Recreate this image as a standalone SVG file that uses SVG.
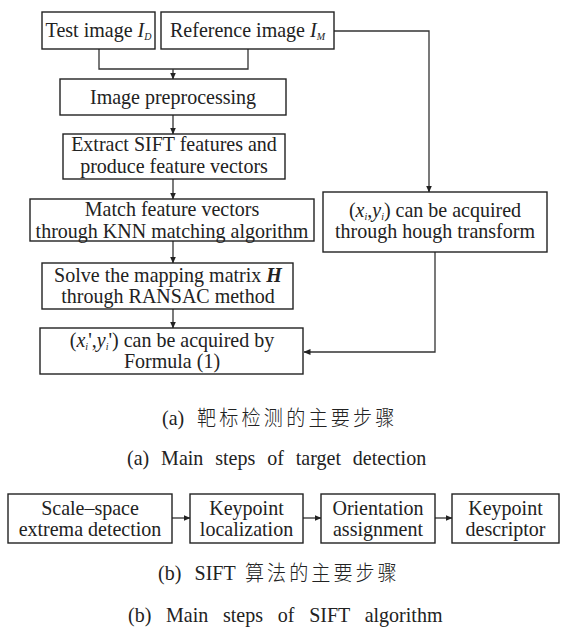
<svg xmlns="http://www.w3.org/2000/svg" width="564" height="628" viewBox="0 0 564 628">
<defs>
<marker id="ah" markerWidth="7" markerHeight="6" refX="6.5" refY="3" orient="auto" markerUnits="userSpaceOnUse"><path d="M0,0 L7,3 L0,6 z" fill="#222"/></marker>
</defs>
<style>
.box{fill:#fff;stroke:#222;stroke-width:1.4}
.t{font-size:22px;fill:#222;text-anchor:middle}
.c{stroke:#333;stroke-width:1.3;fill:none}
.i{font-style:italic}
.bi{font-style:italic;font-weight:bold}
.sub{font-size:11px;font-style:italic}
.cap{font-size:22px;fill:#222}
.cjk{font-family:'Noto Sans CJK SC',sans-serif;font-size:21px;font-weight:300}
</style>
<rect width="564" height="628" fill="#fff"/>
<g id="connectors">
<path class="c" d="M99,49 V69 H248 V49"/>
<path class="c" d="M173,69 V79" marker-end="url(#ah)"/>
<path class="c" d="M173,115 V134" marker-end="url(#ah)"/>
<path class="c" d="M173,179 V199" marker-end="url(#ah)"/>
<path class="c" d="M173,241 V263" marker-end="url(#ah)"/>
<path class="c" d="M173,309 V328" marker-end="url(#ah)"/>
<path class="c" d="M334,31 H429 V192" marker-end="url(#ah)"/>
<path class="c" d="M435,252 V352 H304" marker-end="url(#ah)"/>
<path class="c" d="M172,518 H190" marker-end="url(#ah)"/>
<path class="c" d="M303,518 H321" marker-end="url(#ah)"/>
<path class="c" d="M435,518 H452" marker-end="url(#ah)"/>
</g>
<g font-family="Liberation Serif, DejaVu Serif, serif">
<g id="test-image">
<rect class="box" x="42" y="12" width="113" height="37"/>
<text class="t" transform="translate(98.5 36.5) scale(0.91 1)">Test image <tspan class="i">I</tspan><tspan class="sub" dy="3">D</tspan></text>
</g>
<g id="reference-image">
<rect class="box" x="161" y="12" width="173" height="37"/>
<text class="t" transform="translate(247.5 36.5) scale(0.91 1)">Reference image <tspan class="i">I</tspan><tspan class="sub" dy="3">M</tspan></text>
</g>
<g id="preprocessing">
<rect class="box" x="60" y="79" width="226" height="36"/>
<text class="t" transform="translate(173 103.5) scale(0.91 1)">Image preprocessing</text>
</g>
<g id="extract">
<rect class="box" x="63" y="134" width="222" height="45"/>
<text class="t" transform="translate(174 151) scale(0.91 1)">Extract SIFT features and</text>
<text class="t" transform="translate(174 172.5) scale(0.91 1)">produce feature vectors</text>
</g>
<g id="match">
<rect class="box" x="30" y="199" width="284" height="42"/>
<text class="t" transform="translate(172 216) scale(0.91 1)">Match feature vectors</text>
<text class="t" transform="translate(172 237.5) scale(0.91 1)">through KNN matching algorithm</text>
</g>
<g id="hough">
<rect class="box" x="323" y="192" width="224" height="60"/>
<text class="t" transform="translate(435 216.5) scale(0.91 1)">(<tspan class="i">x</tspan><tspan class="sub" dy="3">i</tspan><tspan dy="-3">,</tspan><tspan class="i">y</tspan><tspan class="sub" dy="3">i</tspan><tspan dy="-3">) can be acquired</tspan></text>
<text class="t" transform="translate(435 238) scale(0.91 1)">through hough transform</text>
</g>
<g id="ransac">
<rect class="box" x="42" y="263" width="251" height="46"/>
<text class="t" transform="translate(168 282) scale(0.91 1)">Solve the mapping matrix <tspan class="bi">H</tspan></text>
<text class="t" transform="translate(168 302.5) scale(0.91 1)">through RANSAC method</text>
</g>
<g id="formula">
<rect class="box" x="40" y="328" width="263" height="46"/>
<text class="t" transform="translate(172 347) scale(0.91 1)">(<tspan class="i">x</tspan><tspan class="sub" dy="3">i</tspan><tspan dy="-3">',</tspan><tspan class="i">y</tspan><tspan class="sub" dy="3">i</tspan><tspan dy="-3">') can be acquired by</tspan></text>
<text class="t" transform="translate(172 367.5) scale(0.91 1)">Formula (1)</text>
</g>
<g id="caption-a">
<text class="cap" transform="translate(162 425) scale(0.91 1)">(a)<tspan class="cjk" x="38.5" style="letter-spacing:3.5px">靶标检测的主要步骤</tspan></text>
<text class="cap" transform="translate(127 465) scale(0.91 1)" style="word-spacing:7.6px">(a) Main steps of target detection</text>
</g>
<g id="scale-space">
<rect class="box" x="8" y="494" width="164" height="49"/>
<text class="t" transform="translate(90 514.5) scale(0.91 1)">Scale–space</text>
<text class="t" transform="translate(90 535.5) scale(0.91 1)">extrema detection</text>
</g>
<g id="keypoint-localization">
<rect class="box" x="190" y="494" width="113" height="49"/>
<text class="t" transform="translate(246.5 514.5) scale(0.91 1)">Keypoint</text>
<text class="t" transform="translate(246.5 535.5) scale(0.91 1)">localization</text>
</g>
<g id="orientation">
<rect class="box" x="321" y="494" width="114" height="49"/>
<text class="t" transform="translate(378 514.5) scale(0.91 1)">Orientation</text>
<text class="t" transform="translate(378 535.5) scale(0.91 1)">assignment</text>
</g>
<g id="descriptor">
<rect class="box" x="452" y="494" width="107" height="49"/>
<text class="t" transform="translate(505.5 514.5) scale(0.91 1)">Keypoint</text>
<text class="t" transform="translate(505.5 535.5) scale(0.91 1)">descriptor</text>
</g>
<g id="caption-b">
<text class="cap" transform="translate(158 580) scale(0.91 1)" style="word-spacing:9px">(b) SIFT<tspan class="cjk" x="95.6" style="letter-spacing:3.3px;word-spacing:0">算法的主要步骤</tspan></text>
<text class="cap" transform="translate(128 622) scale(0.91 1)" style="word-spacing:10.7px">(b) Main steps of SIFT algorithm</text>
</g>
</g>
</svg>
